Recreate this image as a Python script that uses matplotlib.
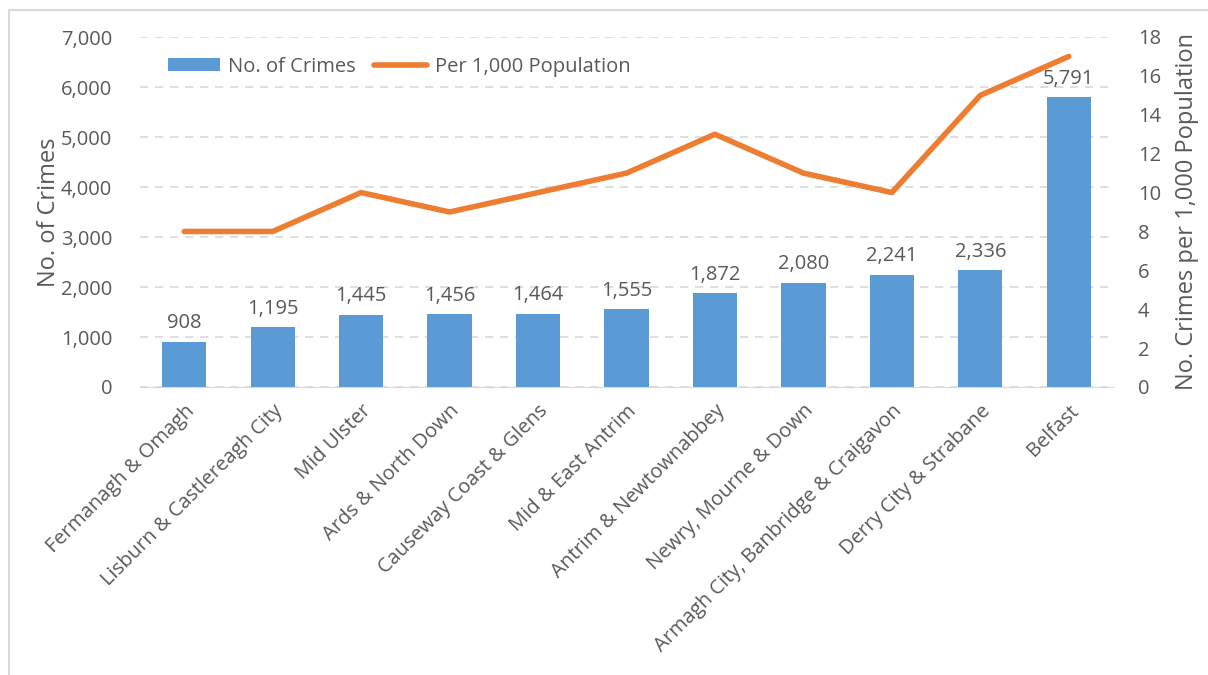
import matplotlib
matplotlib.use("Agg")
import matplotlib.pyplot as plt
from matplotlib.patches import Rectangle

plt.rcParams['font.family'] = ['Open Sans', 'DejaVu Sans']

districts = ["Fermanagh & Omagh", "Lisburn & Castlereagh City", "Mid Ulster",
             "Ards & North Down", "Causeway Coast & Glens", "Mid & East Antrim",
             "Antrim & Newtownabbey", "Newry, Mourne & Down",
             "Armagh City, Banbridge & Craigavon", "Derry City & Strabane", "Belfast"]
crimes = [908, 1195, 1445, 1456, 1464, 1555, 1872, 2080, 2241, 2336, 5791]
per_1000 = [8, 8, 10, 9, 10, 11, 13, 11, 10, 15, 17]

blue = "#5B9BD5"
orange = "#ED7D31"
txt = "#595959"
grid = "#D9D9D9"

fig = plt.figure(figsize=(12.08, 6.75), dpi=100)
ax = fig.add_axes([140/1208, 1 - 387/675, (1113 - 140)/1208, 350/675])
ax2 = ax.twinx()

x = list(range(len(districts)))
bars = ax.bar(x, crimes, width=0.5, color=blue, label="No. of Crimes", zorder=2)
for xi, v in zip(x, crimes):
    ax.text(xi, v + 170, f"{v:,}", ha="center", va="bottom", fontsize=14.5, color=txt)

ln, = ax2.plot(x, per_1000, color=orange, lw=4, solid_capstyle="round",
               label="Per 1,000 Population", zorder=3)

ax.set_xlim(-0.5, len(districts) - 0.5)
ax.set_ylim(0, 7000)
ax.set_yticks(range(0, 7001, 1000))
ax.set_yticklabels([f"{v:,}" for v in range(0, 7001, 1000)])
ax2.set_ylim(0, 18)
ax2.set_yticks(range(0, 19, 2))

ax.yaxis.grid(True, color=grid, linestyle=(0, (5, 4)), lw=1.2)
ax.set_axisbelow(True)
ax.set_xticks(x)
ax.set_xticklabels(districts, rotation=45, ha="right", rotation_mode="anchor")

for a in (ax, ax2):
    for s in a.spines.values():
        s.set_visible(False)
    a.tick_params(length=0, labelsize=14.5, colors=txt)
ax.spines["bottom"].set_visible(True)
ax.spines["bottom"].set_color(grid)
ax.tick_params(axis="y", pad=20)
ax.tick_params(axis="x", pad=10)
ax2.tick_params(axis="y", pad=18)

ax.set_ylabel("No. of Crimes", fontsize=17, color=txt, labelpad=0)
ax2.set_ylabel("No. Crimes per 1,000 Population", fontsize=17, color=txt, labelpad=10)

ax.legend([bars, ln], ["No. of Crimes", "Per 1,000 Population"], loc="upper left",
          bbox_to_anchor=(0.01, 0.995), ncol=2, frameon=False, fontsize=14.5,
          labelcolor=txt, handlelength=2.6, handleheight=0.6, handletextpad=0.4,
          columnspacing=0.9)

fig.add_artist(Rectangle((9/1208, -0.1), 1.2, 1 - 10/675 + 0.1, transform=fig.transFigure,
                         fill=False, edgecolor="#D9D9D9", lw=1.5))

fig.savefig("out.png", dpi=100)
